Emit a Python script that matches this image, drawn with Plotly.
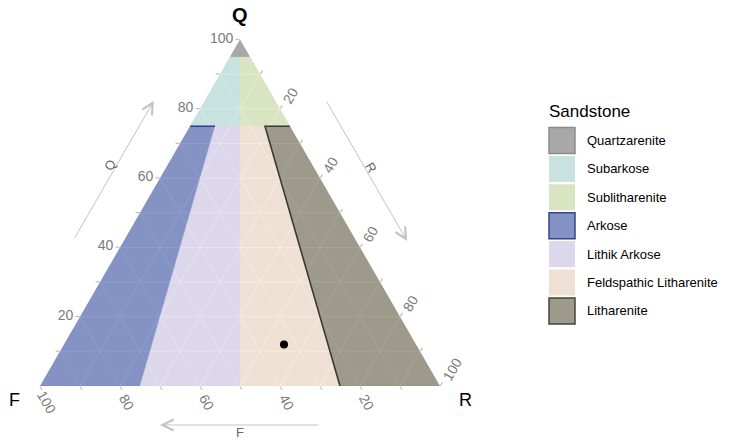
import math
import plotly.graph_objects as go

W, H = 731, 441          # browser window (page body margin removed below)

# ---------------- data ----------------
sandstone_classes = ["Quartzarenite", "Subarkose", "Sublitharenite", "Arkose",
                     "Lithik Arkose", "Feldspathic Litharenite", "Litharenite"]

# polygon vertices as (Q, F, R) percentages
quartzarenite = [(100, 0, 0), (95, 5, 0), (95, 0, 5)]
subarkose = [(95, 5, 0), (95, 2.5, 2.5), (75, 12.5, 12.5), (75, 25, 0)]
sublitharenite = [(95, 0, 5), (95, 2.5, 2.5), (75, 12.5, 12.5), (75, 0, 25)]
arkose = [(75, 25, 0), (75, 18.75, 6.25), (0, 75, 25), (0, 100, 0)]
lithik_arkose = [(75, 18.75, 6.25), (75, 12.5, 12.5), (0, 50, 50), (0, 75, 25)]
feldspathic_litharenite = [(75, 12.5, 12.5), (75, 6.25, 18.75), (0, 25, 75), (0, 50, 50)]
litharenite = [(75, 6.25, 18.75), (75, 0, 25), (0, 0, 100), (0, 25, 75)]
polygons = [quartzarenite, subarkose, sublitharenite, arkose,
            lithik_arkose, feldspathic_litharenite, litharenite]

# outlined boundary segments (vertex indices into the polygons above)
arkose_edge_idx = [0, 1]
litharenite_edge_idx = [3, 0, 1]

sample_Q = [12]
sample_F = [33]
sample_R = [55]

tick_values = [10, 20, 30, 40, 50, 60, 70, 80, 90, 100]
tick_text = ["", "20", "", "40", "", "60", "", "80", "", "100"]
f_label_values = [100, 80, 60, 40, 20]

# ---------------- styles ----------------
FILL_ALPHA = 0.7
fill_rgb = [(147, 147, 147), (193, 231, 225), (217, 234, 184), (97, 117, 187),
            (221, 214, 241), (248, 227, 210), (131, 127, 107)]
legend_rgb = [(168, 168, 168), (200, 227, 223), (217, 229, 194), (133, 147, 196),
              (220, 215, 234), (239, 224, 212), (157, 154, 140)]
legend_edges = ["#8a8a8a", None, None, "#34468f", None, None, "#45433a"]
FONT = "Liberation Sans, Arial, sans-serif"
TICK_COLOR = "#7a7a7a"

fig = go.Figure()

for name, poly, rgb in zip(sandstone_classes, polygons, fill_rgb):
    pts = poly + [poly[0]]
    fc = "rgba(%d,%d,%d,%.2f)" % (rgb + (FILL_ALPHA,))
    fig.add_trace(go.Scatterternary(
        a=[p[0] for p in pts], b=[p[1] for p in pts], c=[p[2] for p in pts],
        mode="lines", fill="toself", fillcolor=fc,
        line=dict(color=fc, width=0.5),
        name=name, showlegend=False, hoverinfo="name"))

for poly, idx, col in [(arkose, arkose_edge_idx, "#2f418c"),
                       (litharenite, litharenite_edge_idx, "#3d3b31")]:
    seg = [poly[i] for i in idx]
    fig.add_trace(go.Scatterternary(
        a=[p[0] for p in seg], b=[p[1] for p in seg], c=[p[2] for p in seg],
        mode="lines", line=dict(color=col, width=1.6),
        showlegend=False, hoverinfo="skip"))

fig.add_trace(go.Scatterternary(
    a=sample_Q, b=sample_F, c=sample_R, mode="markers",
    marker=dict(color="black", size=8), showlegend=False, name="sample"))

# ternary placement (window pixels)
tri_left, tri_right, tri_bottom = 40, 440, 386
side = tri_right - tri_left
tri_h = side * math.sqrt(3) / 2
tri_top = tri_bottom - tri_h


def px(x):
    return x / W


def py(y):
    return 1 - y / H


axis_common = dict(
    tickmode="array", tickvals=tick_values, ticktext=tick_text,
    ticks="outside", ticklen=4, tickcolor="#b0b0b0",
    tickfont=dict(family=FONT, size=14, color=TICK_COLOR),
    showgrid=True, gridcolor="rgba(255,255,255,0.85)", gridwidth=1,
    showline=False, layer="above traces",
    title=dict(text=""),
)

fig.update_layout(
    width=W, height=H,
    margin=dict(l=0, r=0, t=0, b=0),
    paper_bgcolor="white", plot_bgcolor="white",
    font=dict(family=FONT),
    showlegend=False,
    ternary=dict(
        sum=100,
        bgcolor="#d9d9d9",
        domain=dict(x=[px(tri_left), px(tri_right)], y=[py(tri_bottom), py(tri_top)]),
        aaxis=dict(**axis_common),
        baxis=dict(showticklabels=False, **axis_common),
        caxis=dict(tickangle=-60, **axis_common),
    ),
)

# corner titles
corner_titles = [("Q", 240, 15, 20, True), ("F", 14, 400, 18, False), ("R", 465, 400, 18, False)]
for lab, x, y, size, bold in corner_titles:
    fig.add_annotation(x=px(x), y=py(y), xref="paper", yref="paper",
                       text="<b>%s</b>" % lab if bold else lab, showarrow=False,
                       xanchor="center", yanchor="middle",
                       font=dict(family=FONT, size=size, color="black"))

# F-axis tick labels (rotated), placed along the bottom edge
for v in f_label_values:
    tx = tri_left + side * (100 - v) / 100
    fig.add_annotation(x=px(tx + 6.5), y=py(tri_bottom + 16), xref="paper", yref="paper",
                       text=str(v), showarrow=False, textangle=60,
                       xanchor="center", yanchor="middle",
                       font=dict(family=FONT, size=14, color=TICK_COLOR))

# ---------------- direction arrows ----------------
arrow_color = "#c3c3c3"


def side_point(p0, p1, t, off):
    x = p0[0] + (p1[0] - p0[0]) * t
    y = p0[1] + (p1[1] - p0[1]) * t
    dx, dy = p1[0] - p0[0], p1[1] - p0[1]
    L = math.hypot(dx, dy)
    nx, ny = dy / L, -dx / L
    return x + nx * off, y + ny * off


Fc = (tri_left, tri_bottom)
Qc = ((tri_left + tri_right) / 2, tri_top)
Rc = (tri_right, tri_bottom)

arrows = [
    # (start corner, end corner, t_tail, t_head, offset, label, label_t, label_off, angle)
    (Fc, Qc, 0.36, 0.76, 44, "Q", 0.565, 50, -60),
    (Qc, Rc, 0.24, 0.645, 44, "R", 0.44, 50, 60),
    (Rc, Fc, 0.30, 0.70, 39, "F", 0.50, 46, 0),
]
for p0, p1, t0, t1, off, lab, tl, loff, ang in arrows:
    x0, y0 = side_point(p0, p1, t0, off)
    x1, y1 = side_point(p0, p1, t1, off)
    fig.add_annotation(x=px(x1), y=py(y1), xref="paper", yref="paper",
                       ax=x0 - x1, ay=y0 - y1, axref="pixel", ayref="pixel",
                       text="", showarrow=True, arrowhead=5, arrowsize=2.2,
                       arrowwidth=1, arrowcolor=arrow_color)
    lx, ly = side_point(p0, p1, tl, loff)
    fig.add_annotation(x=px(lx), y=py(ly), xref="paper", yref="paper",
                       text=lab, showarrow=False, textangle=ang,
                       xanchor="center", yanchor="middle", borderpad=0,
                       font=dict(family=FONT, size=13, color="#666666"))

# ---------------- legend (drawn) ----------------
leg_x0, leg_title_y, row0_y, row_h, sw = 547, 111, 140.5, 28.4, 26
fig.add_annotation(x=px(leg_x0), y=py(leg_title_y), xref="paper", yref="paper",
                   text="Sandstone", showarrow=False, xanchor="left", yanchor="middle",
                   font=dict(family=FONT, size=17, color="black"))
for i, (name, rgb, edge) in enumerate(zip(sandstone_classes, legend_rgb, legend_edges)):
    cy = row0_y + i * row_h
    col = "rgb(%d,%d,%d)" % rgb
    fig.add_shape(type="rect", xref="paper", yref="paper",
                  x0=px(leg_x0 + 2), x1=px(leg_x0 + 2 + sw),
                  y0=py(cy + sw / 2), y1=py(cy - sw / 2),
                  fillcolor=col, line=dict(color=edge if edge else col, width=1.5 if edge else 0))
    fig.add_annotation(x=px(leg_x0 + 38), y=py(cy), xref="paper", yref="paper",
                       text=name, showarrow=False, xanchor="left", yanchor="middle",
                       font=dict(family=FONT, size=13, color="black"))

fig.write_html("out.html", config={"displayModeBar": False},
               post_script="document.body.style.margin='0';document.body.style.overflow='hidden';")
